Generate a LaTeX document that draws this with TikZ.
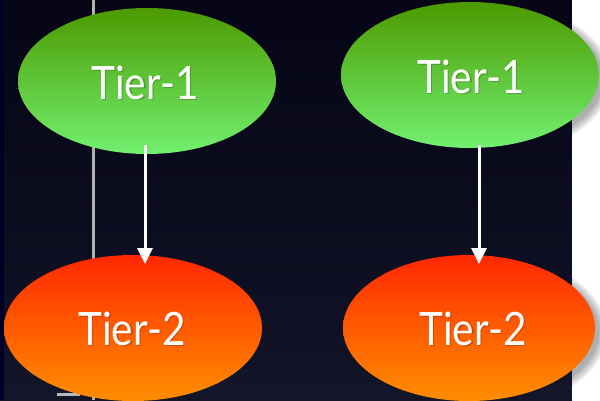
\documentclass[tikz,border=0pt]{standalone}
\usepackage{fontspec}
\setmainfont{Lato}
\usetikzlibrary{shapes.geometric,arrows.meta}
\definecolor{greentop}{HTML}{4C9A00}
\definecolor{greenbot}{HTML}{72F070}
\definecolor{redtop}{HTML}{FF2800}
\definecolor{redbot}{HTML}{FF8E00}
% slide backdrop: near black at the top, slate navy towards the bottom
\pgfdeclareverticalshading{slidebg}{100bp}{
  rgb(0bp)=(0.12,0.13,0.22);
  rgb(35bp)=(0.06,0.065,0.14);
  rgb(70bp)=(0.025,0.025,0.09);
  rgb(100bp)=(0.015,0.015,0.07)}
\tikzset{
  tierbox/.style={ellipse, inner sep=0pt, minimum width=258pt, minimum height=146pt},
  tierone/.style={tierbox, top color=greentop, bottom color=greenbot},
  tiertwo/.style={tierbox, top color=redtop, bottom color=redbot},
  tierlabel/.style={text=white, font=\fontsize{46}{50}\selectfont, xscale=0.88, anchor=base},
  tiershadow/.style={tierlabel, text=black, opacity=0.2},
  softshade/.style={fill=black, opacity=0.07},
  flow/.style={draw=white, line width=3pt, -{Triangle[length=16pt, width=15pt]}}
}
\begin{document}
\begin{tikzpicture}[x=1pt, y=-1pt]
  \useasboundingbox (0,0) rectangle (600,400);
  % backdrop: dark slide area and white margin on the right
  \shade[shading=slidebg] (0,0) rectangle (572,400);
  \fill[black!85!blue] (0,0) rectangle (4,400);
  \fill[white] (572,0) rectangle (600,400);
  % grey guide line and small bar
  \fill[gray!60] (92,0) rectangle (94.5,400);
  \fill[gray!55] (57,392.5) rectangle (80,396);

  % soft shadows of the right-hand tiers on the white margin
  \begin{scope}
    \clip (572,0) rectangle (600,400);
    \foreach \r in {0,2,4,6,8} {
      \fill[softshade] (474,79) ellipse ({129+\r} and {73+\r});
      \fill[softshade] (473,332) ellipse ({126+\r} and {73+\r});
    }
  \end{scope}

  % tiers
  \node[tierone] (a1) at (147,81) {};
  \node[tierone] (b1) at (470,75) {};
  \node[tiertwo] (a2) at (133,328) {};
  \node[tiertwo, minimum width=252pt] (b2) at (469,328) {};

  % labels
  \node[tiershadow] at (146.5,100.5) {Tier-1};
  \node[tierlabel] (la1) at (145,99) {Tier-1};
  \node[tiershadow] at (472.5,94.5) {Tier-1};
  \node[tierlabel] (lb1) at (471,93) {Tier-1};
  \node[tiershadow] at (133.5,346.5) {Tier-2};
  \node[tierlabel] (la2) at (132,345) {Tier-2};
  \node[tiershadow] at (474.5,346.5) {Tier-2};
  \node[tierlabel] (lb2) at (473,345) {Tier-2};

  % connectors
  \coordinate (a1s) at (145,145);
  \coordinate (a2e) at (145,264);
  \coordinate (b1s) at (479,145);
  \coordinate (b2e) at (479,264);
  \draw[flow] (a1s) -- (a2e);
  \draw[flow] (b1s) -- (b2e);
\end{tikzpicture}
\end{document}
